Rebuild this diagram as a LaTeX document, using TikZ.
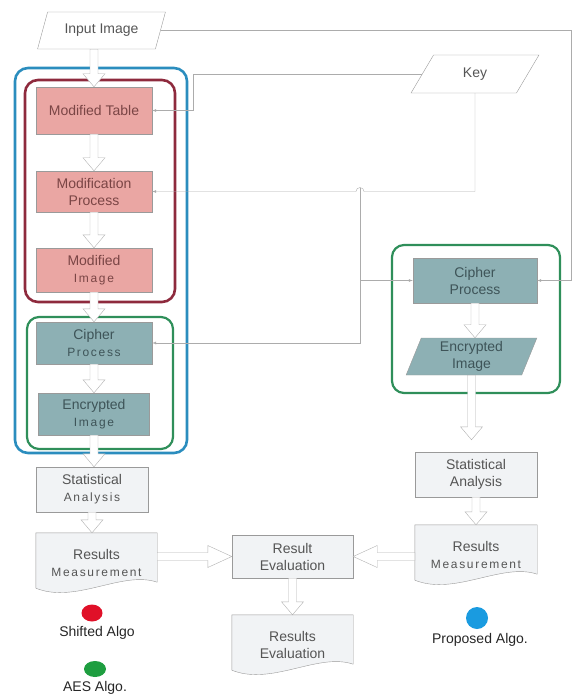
\documentclass[tikz,border=0pt]{standalone}
\usepackage{fontspec}
\setmainfont{Liberation Sans}
\newfontfamily\spacedfont[LetterSpace=14]{Liberation Sans}
\usepackage{tikz}
\usetikzlibrary{positioning,calc,backgrounds}
\usetikzlibrary{shapes.geometric}

\definecolor{pinkfill}{HTML}{EAA6A3}
\definecolor{tealfill}{HTML}{8DB0B4}
\definecolor{grayfill}{HTML}{F1F3F5}
\definecolor{boxline}{HTML}{9A9A9A}
\definecolor{frameblue}{HTML}{2B8DBE}
\definecolor{framered}{HTML}{8E2A3D}
\definecolor{framegreen}{HTML}{2F8F5A}
\definecolor{modtext}{HTML}{7A4545}
\definecolor{ciphtext}{HTML}{3E5458}
\definecolor{txtgray}{HTML}{555555}
\definecolor{dotred}{HTML}{E01028}
\definecolor{dotgreen}{HTML}{1E9E40}
\definecolor{dotblue}{HTML}{1A9BE0}

\newcommand{\ftop}{\fontsize{14}{17}\selectfont}
\newcommand{\fsub}{\spacedfont\fontsize{12}{17}\selectfont}

\begin{document}
\begin{tikzpicture}[x = 1pt, y = -1pt, node distance = 40pt and 40pt, on grid,
                    font = \ftop, text = txtgray,
                    proc/.style    = {rectangle,
                                      draw = boxline,
                                      thin,
                                      align = center,
                                      inner sep = 1pt,
                                      minimum width = 116pt,
                                      minimum height = 44pt},
                    modbox/.style  = {proc, fill = pinkfill, text = modtext},
                    ciphbox/.style = {proc, fill = tealfill, text = ciphtext},
                    statbox/.style = {proc, fill = grayfill},
                    docbox/.style  = {rectangle,
                                      align = center,
                                      inner sep = 1pt,
                                      minimum width = 121pt,
                                      minimum height = 59pt},
                    io/.style      = {trapezium,
                                      trapezium left angle = 64,
                                      trapezium right angle = 116,
                                      trapezium stretches = true,
                                      draw = boxline,
                                      thin,
                                      align = center,
                                      inner sep = 1pt},
                    dot/.style     = {ellipse, inner sep = 0pt,
                                      minimum width = 21pt,
                                      minimum height = 17pt},
                    frame/.style   = {rounded corners = 13pt, line width = 2.6pt},
                    link/.style    = {draw = gray!65, thin, -latex},
                    bahead/.store in = \bahead, bahead = 13pt,
                    blockarr/.style = {draw = gray!60, fill = white, thin,
                      to path = {
                        ($(\tikztostart)!4pt!90:(\tikztotarget)$)
                        -- ($(\tikztotarget)!\bahead!(\tikztostart)!4pt!-90:(\tikztostart)$)
                        -- ($(\tikztotarget)!\bahead!(\tikztostart)!11pt!-90:(\tikztostart)$)
                        -- (\tikztotarget)
                        -- ($(\tikztotarget)!\bahead!(\tikztostart)!11pt!90:(\tikztostart)$)
                        -- ($(\tikztotarget)!\bahead!(\tikztostart)!4pt!90:(\tikztostart)$)
                        -- ($(\tikztostart)!4pt!-90:(\tikztotarget)$)
                        -- cycle}}]

\useasboundingbox (0,0) rectangle (574,695);

% left column
\node[io, minimum width = 129pt, minimum height = 37pt] (In) at (101.5,30.5) {Input Image};
\node[modbox, minimum height = 47pt] (MT) at (94,110.5) {Modified Table};
\node[modbox, minimum height = 41pt] (MP) [below = 81pt of MT] {Modification\\Process};
\node[modbox] (MI) [below = 78.5pt of MP] {Modified\\{\fsub Image}};
\node[ciphbox, minimum height = 42pt] (CP) [below = 73pt of MI] {Cipher\\{\fsub Process}};
\node[ciphbox, minimum width = 111pt, minimum height = 42pt] (EI) [below = 71pt of CP] {Encrypted\\{\fsub Image}};
\node[statbox, minimum width = 112pt, minimum height = 45pt] (SA) [below = 75.5pt of EI, xshift = -2pt] {Statistical\\{\fsub Analysis}};
\node[docbox] (RM) [below = 73pt of SA, xshift = 4.5pt] {Results\\{\fsub Measurement}};

% middle
\node[statbox, minimum width = 121pt, minimum height = 43pt] (RE) at (292.5,556.5) {Result\\Evaluation};
\node[docbox] (RES) [below = 88pt of RE] {Results\\Evaluation};

% right column
\node[io, minimum width = 128pt, minimum height = 38pt] (K) at (475,74) {Key};
\node[ciphbox, minimum width = 124pt, minimum height = 45pt] (CP2) at (475,280.5) {Cipher\\Process};
\node[io, fill = tealfill, text = ciphtext, trapezium left angle = 73, trapezium right angle = 107,
      minimum width = 131pt, minimum height = 37pt] (EI2) [below = 76pt of CP2, xshift = -3.5pt] {Encrypted\\Image};
\node[statbox, minimum width = 122pt, minimum height = 45pt] (SA2) [below = 118pt of EI2, xshift = 4.5pt] {Statistical\\Analysis};
\node[docbox, minimum width = 122pt] (RM2) [below = 80pt of SA2] {Results\\{\fsub Measurement}};

% legend
\node[dot, fill = dotred] (dR) at (92,613) {};
\node[text = black!85] (lR) [below = 20pt of dR, xshift = 5pt] {Shifted Algo};
\node[dot, fill = dotgreen, minimum width = 22pt, minimum height = 16pt] (dG) at (95,669) {};
\node[text = black!85] (lG) [below = 19pt of dG] {AES Algo.};
\node[dot, fill = dotblue, minimum width = 22pt, minimum height = 22pt] (dB) at (477,618) {};
\node[text = black!85] (lB) [below = 22pt of dB, xshift = 3pt] {Proposed Algo.};

% document shapes
\begin{scope}[on background layer]
\foreach \d in {RM, RES, RM2}
  \draw[draw = boxline, fill = grayfill, thin]
    (\d.north west) -- (\d.north east) -- ([yshift = 10pt]\d.south east)
    .. controls ([xshift = -35pt, yshift = 22pt]\d.south east)
            and ([xshift = 40pt, yshift = -12pt]\d.south west)
    .. ([yshift = 4pt]\d.south west) -- cycle;
\end{scope}

% groups
\draw[frame, frameblue] (15,68) rectangle (187,453);
\draw[frame, framered] (25,80) rectangle (175,302);
\draw[frame, framegreen, line width = 2.2pt, rounded corners = 12pt] (27,317) rectangle (173,449);
\draw[frame, framegreen, line width = 2.2pt, rounded corners = 12pt] (392,245) rectangle (560,393);

% key and image lines
\coordinate (rc) at (571,0);
\coordinate (kc) at (193,0);
\coordinate (jx) at (360,0);

\draw[link] (In.east) -| (rc |- CP2.east) -- (CP2.east);
\draw[link] (K.west) -| (kc |- MT.east) -- (MT.east);
\draw[link] (K.south) |- ($(jx |- MP.east)+(4pt,0)$)
            arc[start angle = 0, end angle = 180, radius = 4pt] -- (MP.east);
\draw[link] ($(jx |- MP.east)+(0,4pt)$) |- (CP.east);
\draw[link] (jx |- CP2.west) -- (CP2.west);

% flow
\draw[blockarr] (MT.north |- In.south) to (MT.north);
\draw[blockarr] (MT.south) to (MP.north);
\draw[blockarr] (MP.south) to (MI.north);
\draw[blockarr] (MI.south) to (CP.north);
\draw[blockarr] (CP.south) to (EI.north);
\draw[blockarr] (EI.south) to (EI.south |- SA.north);
\draw[blockarr] (SA.south) to (SA.south |- RM.north);

\draw[blockarr] (CP2.south) to (CP2.south |- EI2.north);
\draw[blockarr] (EI2.south) to ($(EI2.south |- SA2.north)+(0,12pt)$);
\draw[blockarr] (SA2.south) to (SA2.south |- RM2.north);

\draw[blockarr, bahead = 24pt] (RM.east |- RE.west) to (RE.west);
\draw[blockarr, bahead = 24pt] (RM2.west |- RE.east) to (RE.east);
\draw[blockarr] (RE.south) to (RES.north);

\end{tikzpicture}
\end{document}
